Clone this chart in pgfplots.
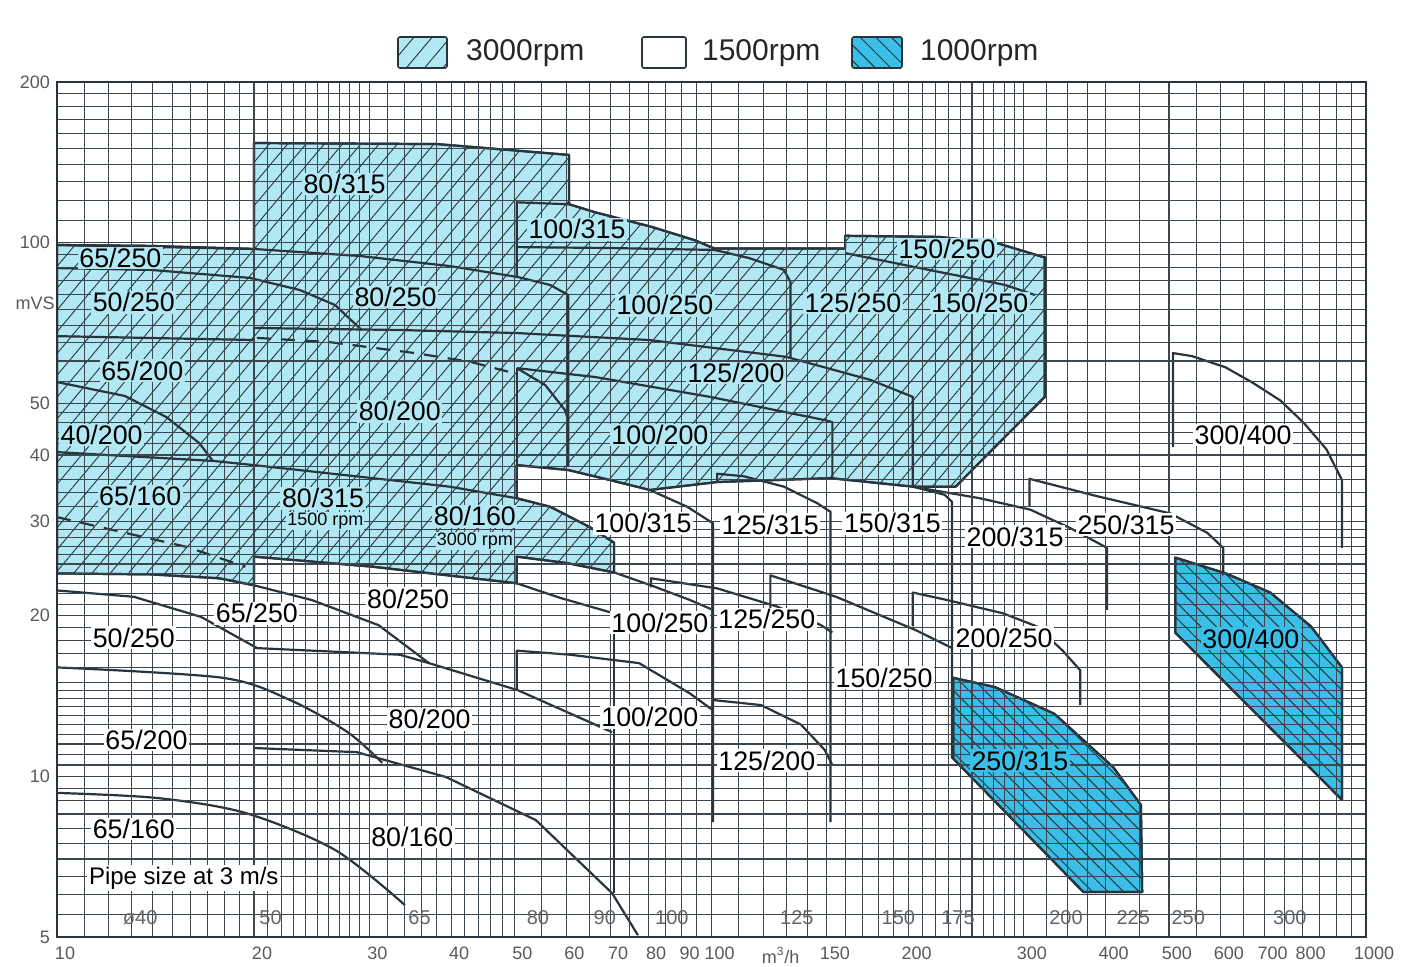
\documentclass[border=0pt]{standalone}
\usepackage{fontspec}
\setmainfont{Liberation Sans}
\usepackage{pgfplots}
\pgfplotsset{compat=1.18}
\usetikzlibrary{patterns.meta}

\definecolor{cyanfill}{RGB}{178,232,244}
\definecolor{darkfill}{RGB}{58,192,232}
\definecolor{ink}{RGB}{40,52,60}
\definecolor{gridc}{RGB}{60,70,78}

\tikzset{
  cv/.style={draw=ink, line width=1.1pt, line join=round},
  dsh/.style={cv, dash pattern=on 7pt off 5pt},
  hatchA/.style={postaction={pattern={Lines[angle=50,distance=7pt,line width=0.45pt]}, pattern color=ink}},
  hatchB/.style={postaction={pattern={Lines[angle=-45,distance=5.5pt,line width=0.5pt]}, pattern color=ink}},
  lbl/.style={font=\fontsize{13.4}{15}\selectfont, inner sep=0.8pt, text=black},
  small/.style={font=\fontsize{9}{10}\selectfont, inner sep=0.5pt, text=black},
  pipe/.style={font=\fontsize{10}{11}\selectfont, text=black!60, inner sep=0pt},
}

\begin{document}
\begin{tikzpicture}
\path[use as bounding box] (-28.5pt,-14.5pt) rectangle (674.5pt,468.5pt);
\begin{axis}[
  at={(0pt,0pt)}, anchor=south west,
  scale only axis, width=654.5pt, height=427.5pt,
  xmode=log, ymode=log,
  xmin=10, xmax=1000, ymin=5, ymax=200,
  axis on top,
  axis line style={draw=ink, line width=1pt},
  xtick={10,20,30,40,50,60,70,80,90,100,150,200,300,400,500,600,700,800,1000},
  xticklabels={10,20,30,40,50,60,70,80,90,100,150,200,300,400,500,600,700,800,1000},
  extra x ticks={124},
  extra x tick labels={m\textsuperscript{3}/h},
  extra x tick style={major grid style={draw=none}},
  ytick={5,10,20,30,40,50,100,200},
  yticklabels={5,10,20,30,40,50,100,200},
  minor xtick={11,12,13,14,15,16,17,18,19,21,22,23,24,25,26,27,28,29,32,34,36,38,42,44,46,48,55,65,75,85,95,110,120,130,140,160,170,180,190,210,220,230,240,250,260,270,280,290,325,350,375,450,550,650,750,850,900,950},
  minor ytick={5.5,6,6.5,7,7.5,8,8.5,9,9.5,10.5,11,11.5,12,12.5,13,13.5,14,14.5,15,16,17,18,19,21,22,23,24,25,26,27,28,29,32,34,36,38,42,44,46,48,55,60,65,70,75,80,85,90,95,110,120,130,140,150,160,170,180,190},
  grid=both,
  major grid style={draw=gridc, line width=0.55pt},
  minor grid style={draw=gridc, line width=0.55pt},
  major tick length=0pt, minor tick length=0pt,
  tick label style={font=\fontsize{9}{10}\selectfont, text=black!65},
  xticklabel style={xshift=4pt, yshift=-1.5pt},
  /pgf/number format/assume math mode=true,
]

% 3000 rpm envelope
\addplot[cv, fill=cyanfill, hatchA] coordinates {
  (10,99.0) (13.9,98.6) (20,97.3) (20,153.7) (38.1,153) (60.6,146) (60.6,118)
  (66.4,114) (81.1,107) (94.4,101) (101,97.5) (160,97.5) (160,103) (223,102.5)
  (273,99.8) (321,94.0) (323,94.0) (323,51.4) (236,34.9) (203,34.9) (152,36.2)
  (102,35.6) (80.5,34.4) (70.0,35.9) (60.4,37.5) (50.4,38.3) (50.4,33.2)
  (56.7,32.0) (65.2,29.3) (71,27.4) (71,24.1) (60.1,25.1) (50.4,25.8) (50.4,23.0)
  (30.4,24.7) (20,25.8) (20,22.8) (17.7,23.5) (13.9,23.9) (10,24.0)
} -- cycle;

% 1000 rpm areas
\addplot[cv, fill=darkfill, hatchB] coordinates {
  (234,15.3) (271,14.7) (334,13.1) (411,10.4) (453,8.84) (455,6.07) (370,6.07) (234,10.8)
} -- cycle;
\addplot[cv, fill=darkfill, hatchB] coordinates {
  (511,25.7) (611,24.0) (714,22.1) (824,19.1) (919,16.0) (919,9.03) (511,18.6)
} -- cycle;

% curves inside the 3000 rpm area
\addplot[cv] coordinates {(10,99.0) (20,97.3) (29.0,94.4) (39.8,90.4) (50.6,86.2) (56.7,83.3) (60.4,79.8) (60.4,38.0)};
\addplot[cv] coordinates {(10,89.6) (13.9,88.9) (19.7,85.9) (23.5,81.5) (26.6,76.4) (29.2,68.6)};
\addplot[cv] coordinates {(10,66.8) (20,65.7)};
\addplot[cv] coordinates {(20,69.2) (33.4,68.6) (50.4,67.7) (80.3,65.7) (130,61.1) (175,55.3) (203,51.4) (203,34.9)};
\addplot[dsh] coordinates {(20.2,66.3) (26.1,65.1) (35.2,62.1) (42.8,59.8) (49.2,57.2)};
\addplot[cv] coordinates {(10,54.8) (12.7,51.6) (14.7,47.1) (16.5,42.1) (17.3,39.0)};
\addplot[cv] coordinates {(10,40.5) (17.3,39.0) (20,38.3) (30.4,36.2) (39.8,34.9) (50.4,33.2)};
\addplot[dsh] coordinates {(10,30.6) (12.7,28.6) (15.8,26.9) (19.4,24.7)};
\addplot[cv] coordinates {(20,153.7) (20,22.8)};
\addplot[cv] coordinates {(60.6,118) (50.4,119) (50.4,86.2)};
\addplot[cv] coordinates {(50.4,58.2) (66.4,56.0) (99.5,51.4) (149,46.5) (153,46.1) (153,36.4)};
\addplot[cv] coordinates {(50.4,58.2) (55.7,54.1) (59.7,48.6) (60.4,46.5)};
\addplot[cv] coordinates {(50.4,58.2) (50.4,38.3)};
\addplot[cv] coordinates {(50.4,98.1) (70.0,97.7) (101,96.9)};
\addplot[cv] coordinates {(101,96.9) (114,93.6) (129,88.9) (132,84.4) (132,61.1)};
\addplot[cv] coordinates {(160,95.6) (223,88.1) (281,83.3) (312,79.8)};

% 1500 rpm curves
\addplot[cv] coordinates {(80.5,34.4) (91.8,32.0) (100.5,29.8) (100.5,8.21)};
\addplot[cv] coordinates {(102,35.6) (102,36.9) (112,36.5) (129,34.9) (145,32.5) (152,31.3) (152,8.21)};
\addplot[cv] coordinates {(203,34.9) (227,33.7) (233,32.7) (233,10.8)};
\addplot[cv] coordinates {(203,34.9) (257,33.2) (307,31.6) (353,29.2) (402,26.8) (402,20.5)};
\addplot[cv] coordinates {(306,32.0) (306,36.1) (388,33.5) (502,31.1) (572,28.6) (605,26.8) (605,23.8)};
\addplot[cv] coordinates {(507,41.4) (507,62.1) (542,61.3) (610,58.4) (672,54.6) (740,50.6) (804,45.9) (870,41.0) (919,35.9) (919,26.8)};
\addplot[cv] coordinates {(20,22.8) (24.5,21.4) (31.0,19.2) (37.0,16.3)};
\addplot[cv] coordinates {(10,22.3) (13.1,21.7) (16.6,19.9) (20.2,17.4)};
\addplot[cv] coordinates {(20,17.4) (33.4,16.9) (37.0,16.3) (50.6,14.5) (70.5,12.1)};
\addplot[cv] coordinates {(71,20.2) (71,6.04)};
\addplot[cv] coordinates {(20,22.8) (20,17.4)};
\addplot[cv] coordinates {(20,8.46) (20,11.3)};
\addplot[cv] coordinates {(50.4,23.0) (58.7,21.6) (71,20.2)};
\addplot[cv] coordinates {(71,24.1) (80.8,22.8) (92.7,21.4) (100.5,20.5)};
\addplot[cv] coordinates {(50.4,14.5) (50.4,17.2) (60.8,16.9) (77.5,16.3) (92.7,14.3) (100.5,13.3)};
\addplot[cv] coordinates {(80.8,22.6) (80.8,23.5) (102,22.5) (126,20.8) (147,19.2) (153,18.6)};
\addplot[cv] coordinates {(100.5,13.9) (119,13.6) (137,12.5) (149,11.2) (153,10.5)};
\addplot[cv] coordinates {(123,19.9) (123,23.8) (155,21.7) (205,18.8) (233,17.4)};
\addplot[cv] coordinates {(203,19.1) (203,22.1) (229,21.4) (279,20.2) (314,19.1) (344,17.2) (366,15.8) (366,13.6)};
\addplot[cv, smooth] coordinates {(10,16.0) (17.9,15.3) (22.7,13.9) (27.8,12.1) (31.4,10.6)};
\addplot[cv] coordinates {(20,11.3) (28.7,11.1) (39.3,9.97) (53.9,8.28) (70.5,6.04) (77.2,5.04)};
\addplot[cv, smooth] coordinates {(10,9.31) (14.2,9.11) (19.4,8.54) (26.6,7.28) (34.0,5.74)};

% label anchors
\coordinate (a1) at (axis cs:27.5,128.8);
\coordinate (a2) at (axis cs:62.3,106);
\coordinate (a3) at (axis cs:229,97.3);
\coordinate (a4) at (axis cs:12.5,93.6);
\coordinate (a5) at (axis cs:13.1,77.4);
\coordinate (a6) at (axis cs:32.9,79.1);
\coordinate (a7) at (axis cs:84.9,76.4);
\coordinate (a8) at (axis cs:164.5,77.1);
\coordinate (a9) at (axis cs:257,77.1);
\coordinate (a10) at (axis cs:13.5,57.5);
\coordinate (a11) at (axis cs:109,57.0);
\coordinate (a12) at (axis cs:33.4,48.3);
\coordinate (a13) at (axis cs:11.7,43.6);
\coordinate (a14) at (axis cs:83.4,43.6);
\coordinate (a15) at (axis cs:13.4,33.5);
\coordinate (a16) at (axis cs:25.5,33.2);
\coordinate (a16b) at (axis cs:25.7,30.1);
\coordinate (a17) at (axis cs:43.5,30.7);
\coordinate (a17b) at (axis cs:43.5,27.6);
\coordinate (b1) at (axis cs:78.6,29.8);
\coordinate (b2) at (axis cs:123,29.6);
\coordinate (b3) at (axis cs:189,29.8);
\coordinate (b4) at (axis cs:291,28.1);
\coordinate (b5) at (axis cs:430,29.6);
\coordinate (b6) at (axis cs:649,43.6);
\coordinate (b7) at (axis cs:34.4,21.5);
\coordinate (b8) at (axis cs:20.2,20.2);
\coordinate (b9) at (axis cs:13.1,18.2);
\coordinate (b10) at (axis cs:83.4,19.4);
\coordinate (b11) at (axis cs:121.5,19.7);
\coordinate (b12) at (axis cs:280,18.2);
\coordinate (b13) at (axis cs:183.5,15.3);
\coordinate (b14) at (axis cs:37.1,12.8);
\coordinate (b15) at (axis cs:80.5,12.9);
\coordinate (b16) at (axis cs:13.7,11.7);
\coordinate (b17) at (axis cs:121.5,10.7);
\coordinate (b18) at (axis cs:13.1,7.97);
\coordinate (b19) at (axis cs:34.9,7.70);
\coordinate (d1) at (axis cs:667,18.1);
\coordinate (d2) at (axis cs:296,10.7);
\coordinate (pp) at (axis cs:11.1,6.45);
\coordinate (p1) at (axis cs:13.4,5.43);
\coordinate (p2) at (axis cs:21.2,5.43);
\coordinate (p3) at (axis cs:35.8,5.43);
\coordinate (p4) at (axis cs:54.3,5.43);
\coordinate (p5) at (axis cs:68.7,5.43);
\coordinate (p6) at (axis cs:87,5.43);
\coordinate (p7) at (axis cs:135,5.43);
\coordinate (p8) at (axis cs:193,5.43);
\coordinate (p9) at (axis cs:238,5.43);
\coordinate (p10) at (axis cs:348,5.43);
\coordinate (p11) at (axis cs:441,5.43);
\coordinate (p12) at (axis cs:535,5.43);
\coordinate (p13) at (axis cs:765,5.43);
\coordinate (mvs) at (axis cs:10,77.1);
\end{axis}

% labels in the 3000 rpm area
\foreach \c/\t in {a1/80\slash315, a2/100\slash315, a3/150\slash250, a4/65\slash250, a5/50\slash250,
  a6/80\slash250, a7/100\slash250, a8/125\slash250, a9/150\slash250, a10/65\slash200, a11/125\slash200,
  a12/80\slash200, a13/40\slash200, a14/100\slash200, a15/65\slash160, a16/80\slash315, a17/80\slash160}
  \node[lbl, fill=cyanfill] at (\c) {\t};
\node[small, fill=cyanfill] at (a16b) {1500 rpm};
\node[small, fill=cyanfill] at (a17b) {3000 rpm};

% labels in the 1500 rpm area
\foreach \c/\t in {b1/100\slash315, b2/125\slash315, b3/150\slash315, b4/200\slash315, b5/250\slash315,
  b6/300\slash400, b7/80\slash250, b8/65\slash250, b9/50\slash250, b10/100\slash250, b11/125\slash250,
  b12/200\slash250, b13/150\slash250, b14/80\slash200, b15/100\slash200, b16/65\slash200, b17/125\slash200,
  b18/65\slash160, b19/80\slash160}
  \node[lbl, fill=white] at (\c) {\t};

% labels in the 1000 rpm area
\node[lbl, fill=darkfill] at (d1) {300/400};
\node[lbl, fill=darkfill] at (d2) {250/315};

% pipe sizes
\node[anchor=west, font=\fontsize{12}{13}\selectfont, fill=white, inner sep=1pt] at (pp) {Pipe size at 3 m/s};
\foreach \c/\t in {p1/ø40, p2/50, p3/65, p4/80, p5/90, p6/100, p7/125, p8/150, p9/175, p10/200, p11/225, p12/250, p13/300}
  \node[pipe] at (\c) {\t};

\node[anchor=east, font=\fontsize{9}{10}\selectfont, text=black!65, inner sep=1pt] at (mvs) {mVS};

% legend
\draw[ink, line width=0.8pt, fill=cyanfill, hatchA, rounded corners=1pt] (170.5pt,434.5pt) rectangle (195pt,450pt);
\node[anchor=west, font=\fontsize{15}{17}\selectfont, text=black!85] at (201pt,442pt) {3000rpm};
\draw[ink, line width=0.8pt, fill=white, rounded corners=1pt] (292.5pt,434.5pt) rectangle (314.5pt,450pt);
\node[anchor=west, font=\fontsize{15}{17}\selectfont, text=black!85] at (319pt,442pt) {1500rpm};
\draw[ink, line width=0.8pt, fill=darkfill, hatchB, rounded corners=1pt] (397.5pt,434.5pt) rectangle (422.5pt,450pt);
\node[anchor=west, font=\fontsize{15}{17}\selectfont, text=black!85] at (428pt,442pt) {1000rpm};
\end{tikzpicture}
\end{document}
